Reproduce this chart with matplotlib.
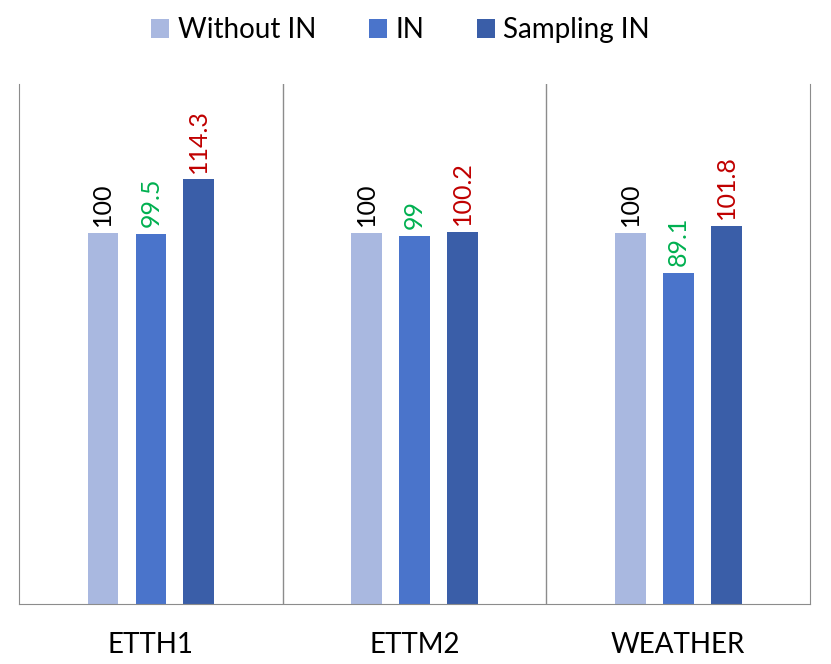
import numpy as np
import matplotlib.pyplot as plt

# chart data
datasets = ['ETTH1', 'ETTM2', 'WEATHER']
series_names = ['Without IN', 'IN', 'Sampling IN']
without_in = [100, 100, 100]
with_in = [99.5, 99, 89.1]
sampling_in = [114.3, 100.2, 101.8]
label_texts = [['100', '100', '100'], ['99.5', '99', '89.1'], ['114.3', '100.2', '101.8']]

bar_colors = ['#A9B8E0', '#4A74CB', '#3A5EA8']
text_colors = ['black', '#00B050', '#C00000']

plt.rcParams['font.family'] = ['Lato', 'DejaVu Sans']

fig = plt.figure(figsize=(8.31, 6.64), dpi=100)
ax = fig.add_axes([0.023, 0.0904, 0.9517, 0.7831])

x = np.arange(len(datasets))
width = 0.117
offsets = [-0.182, 0, 0.182]
all_series = [without_in, with_in, sampling_in]

for i, vals in enumerate(all_series):
    bars = ax.bar(x + offsets[i], vals, width, color=bar_colors[i], label=series_names[i])
    for j, b in enumerate(bars):
        ax.annotate(label_texts[i][j], (b.get_x() + b.get_width() / 2, b.get_height()),
                    xytext=(0, 5), textcoords='offset points', rotation=90,
                    ha='center', va='bottom', fontsize=18, color=text_colors[i])

ax.set_xlim(-0.5, 2.5)
ax.set_ylim(0, 140)
ax.set_yticks([])
ax.set_xticks(x)
ax.set_xticklabels(datasets, fontsize=20)
ax.tick_params(axis='x', length=0, pad=20)

# category separators
for sep in [0.5, 1.5]:
    ax.axvline(sep, color='#8C8C8C', lw=1)
for side in ['left', 'right', 'bottom']:
    ax.spines[side].set_color('#8C8C8C')
ax.spines['top'].set_visible(False)

fig.legend(loc='upper center', bbox_to_anchor=(0.482, 1.012), ncol=3, frameon=False,
           fontsize=20, handlelength=0.65, handleheight=0.7, handletextpad=0.3,
           columnspacing=1.9)

plt.savefig('out.png', dpi=100)
